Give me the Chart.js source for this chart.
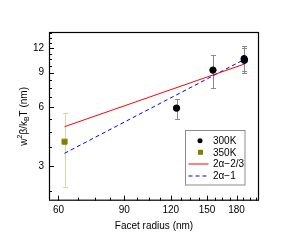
<!DOCTYPE html>
<html><head><meta charset="utf-8">
<script src="https://cdn.jsdelivr.net/npm/chart.js@4"></script>
<style>html,body{margin:0;padding:0;background:#fff}#wrap{width:290px;height:247px}</style>
</head><body><div id="wrap"><canvas id="c" width="290" height="247"></canvas></div>
<script>
const xTicks=[60,90,120,150,180];
const yTicks=[3,6,9,12];
const xMinor=[67.5,75,82.5,97.5,105,112.5,127.5,135,142.5,157.5,165,172.5,187.5,195,202.5];
const yMinor=[2.25,3.75,4.5,5.25,6.75,7.5,8.25,9.75,10.5,11.25,12.75,13.5,14.25];
const r300=[124.3,155.6,188.6,188.9];
const v300=[5.93,9.27,10.6,10.4];
const lo300=[5.19,7.51,8.95,9.19];
const hi300=[6.6,11.06,12.32,11.95];
const r350=[62.3];
const v350=[4.0];
const lo350=[2.36];
const hi350=[5.63];
const fitR=[62.3,188.8];
const fitA=[4.77,9.95];
const fitB=[3.49,10.5];
const legendLabels=['300K','350K','2\u03b1\u22122/3','2\u03b1\u22121'];
const FONT='"Liberation Sans", Arial, sans-serif';

const pts=(xs,ys)=>xs.map((x,i)=>({x:x,y:ys[i]}));

const plug={
  id:'deco',
  beforeDatasetsDraw(chart){
    const ctx=chart.ctx, xs=chart.scales.x, ys=chart.scales.y;
    const bars=(R,L,H,col,cap)=>{
      ctx.save();ctx.strokeStyle=col;ctx.lineWidth=1;
      R.forEach((r,i)=>{
        const px=Math.round(xs.getPixelForValue(r))+0.5;
        const y1=ys.getPixelForValue(L[i]), y2=ys.getPixelForValue(H[i]);
        ctx.beginPath();ctx.moveTo(px,y1);ctx.lineTo(px,y2);
        ctx.moveTo(px-cap,Math.round(y1)+0.5);ctx.lineTo(px+cap,Math.round(y1)+0.5);
        ctx.moveTo(px-cap,Math.round(y2)+0.5);ctx.lineTo(px+cap,Math.round(y2)+0.5);
        ctx.stroke();
      });
      ctx.restore();
    };
    bars(r300,lo300,hi300,'#8a8a8a',2.5);
    bars(r350,lo350,hi350,'#d6d6a6',2.5);
  },
  afterDraw(chart){
    const ctx=chart.ctx, a=chart.chartArea, xs=chart.scales.x, ys=chart.scales.y;
    ctx.save();
    ctx.strokeStyle='#000';ctx.lineWidth=1.2;
    ctx.strokeRect(a.left+0.5,a.top+0.5,a.right-a.left-1,a.bottom-a.top-1);
    ctx.lineWidth=1;
    ctx.beginPath();
    xTicks.forEach(v=>{const p=Math.round(xs.getPixelForValue(v))+0.5;ctx.moveTo(p,a.bottom);ctx.lineTo(p,a.bottom-5);});
    xMinor.forEach(v=>{const p=Math.round(xs.getPixelForValue(v))+0.5;ctx.moveTo(p,a.bottom);ctx.lineTo(p,a.bottom-3);});
    yTicks.forEach(v=>{const p=Math.round(ys.getPixelForValue(v))+0.5;ctx.moveTo(a.left,p);ctx.lineTo(a.left+5,p);});
    yMinor.forEach(v=>{const p=Math.round(ys.getPixelForValue(v))+0.5;ctx.moveTo(a.left,p);ctx.lineTo(a.left+3,p);});
    ctx.stroke();
    // y title with sub/superscripts
    ctx.save();
    ctx.translate(24,(a.top+a.bottom)/2);
    ctx.rotate(-Math.PI/2);
    ctx.fillStyle='#000';ctx.textBaseline='middle';ctx.textAlign='left';
    const parts=[['w',10,0],['2',7,-4],['\u03b2/k',10,0],['B',7,3],['T (nm)',10,0]];
    let tw=0;
    parts.forEach(p=>{ctx.font=p[1]+'px '+FONT;p.push(ctx.measureText(p[0]).width);tw+=p[3];});
    let x=-tw/2;
    parts.forEach(p=>{ctx.font=p[1]+'px '+FONT;ctx.fillText(p[0],x,p[2]);x+=p[3];});
    ctx.restore();
    // legend
    const lx=185.5, ly=130.5, lw=59.5, lh=54.5;
    ctx.strokeStyle='#8c8c8c';ctx.lineWidth=1;
    ctx.fillStyle='#fff';ctx.fillRect(lx,ly,lw,lh);
    ctx.strokeRect(lx,ly,lw,lh);
    const rows=[140.7,152.3,164,176];
    ctx.font='10px '+FONT;ctx.textBaseline='middle';ctx.textAlign='left';
    rows.forEach((ry,i)=>{
      if(i===0){ctx.fillStyle='#000';ctx.beginPath();ctx.arc(200,ry,2.5,0,Math.PI*2);ctx.fill();}
      if(i===1){ctx.fillStyle='#808000';ctx.fillRect(198,ry-2.5,5,5);}
      if(i===2){ctx.strokeStyle='#ff0000';ctx.setLineDash([]);ctx.beginPath();ctx.moveTo(188.5,ry);ctx.lineTo(208.5,ry);ctx.stroke();}
      if(i===3){ctx.strokeStyle='#0000ff';ctx.setLineDash([4,3]);ctx.beginPath();ctx.moveTo(188.5,ry);ctx.lineTo(208.5,ry);ctx.stroke();ctx.setLineDash([]);}
      ctx.fillStyle='#000';ctx.fillText(legendLabels[i],213,ry+0.5);
    });
    ctx.restore();
  }
};

new Chart(document.getElementById('c'),{
  type:'scatter',
  data:{datasets:[
    {label:legendLabels[0],data:pts(r300,v300),backgroundColor:'#000',borderColor:'#000',pointRadius:3.2,pointHoverRadius:3.2,order:0},
    {label:legendLabels[1],data:pts(r350,v350),pointStyle:'rect',backgroundColor:'#808000',borderColor:'#808000',pointRadius:3.6,order:0},
    {label:legendLabels[2],data:pts(fitR,fitA),showLine:true,borderColor:'#ff0000',borderWidth:1,pointRadius:0,order:1},
    {label:legendLabels[3],data:pts(fitR,fitB),showLine:true,borderColor:'#0000ff',borderWidth:1,borderDash:[4,3],pointRadius:0,order:1}
  ]},
  options:{
    responsive:false,animation:false,devicePixelRatio:1,
    layout:{padding:{top:32,right:31,left:0,bottom:0}},
    plugins:{legend:{display:false},tooltip:{enabled:false}},
    scales:{
      x:{type:'logarithmic',min:56.6,max:206.7,
        afterBuildTicks:s=>{s.ticks=xTicks.map(v=>({value:v}));},
        afterFit:s=>{s.height=46.3;},
        grid:{display:false,drawTicks:false},border:{display:false},
        ticks:{callback:v=>String(v),color:'#000',font:{family:FONT,size:10},padding:4,autoSkip:false,maxRotation:0},
        title:{display:true,text:'Facet radius (nm)',color:'#000',font:{family:FONT,size:10},padding:{top:0,bottom:15}}
      },
      y:{type:'logarithmic',min:2.0,max:14.5,
        afterBuildTicks:s=>{s.ticks=yTicks.map(v=>({value:v}));},
        afterFit:s=>{s.width=49;},
        grid:{display:false,drawTicks:false},border:{display:false},
        ticks:{callback:v=>String(v),color:'#000',font:{family:FONT,size:10},padding:5,autoSkip:false}
      }
    }
  },
  plugins:[plug]
});
</script></body></html>
